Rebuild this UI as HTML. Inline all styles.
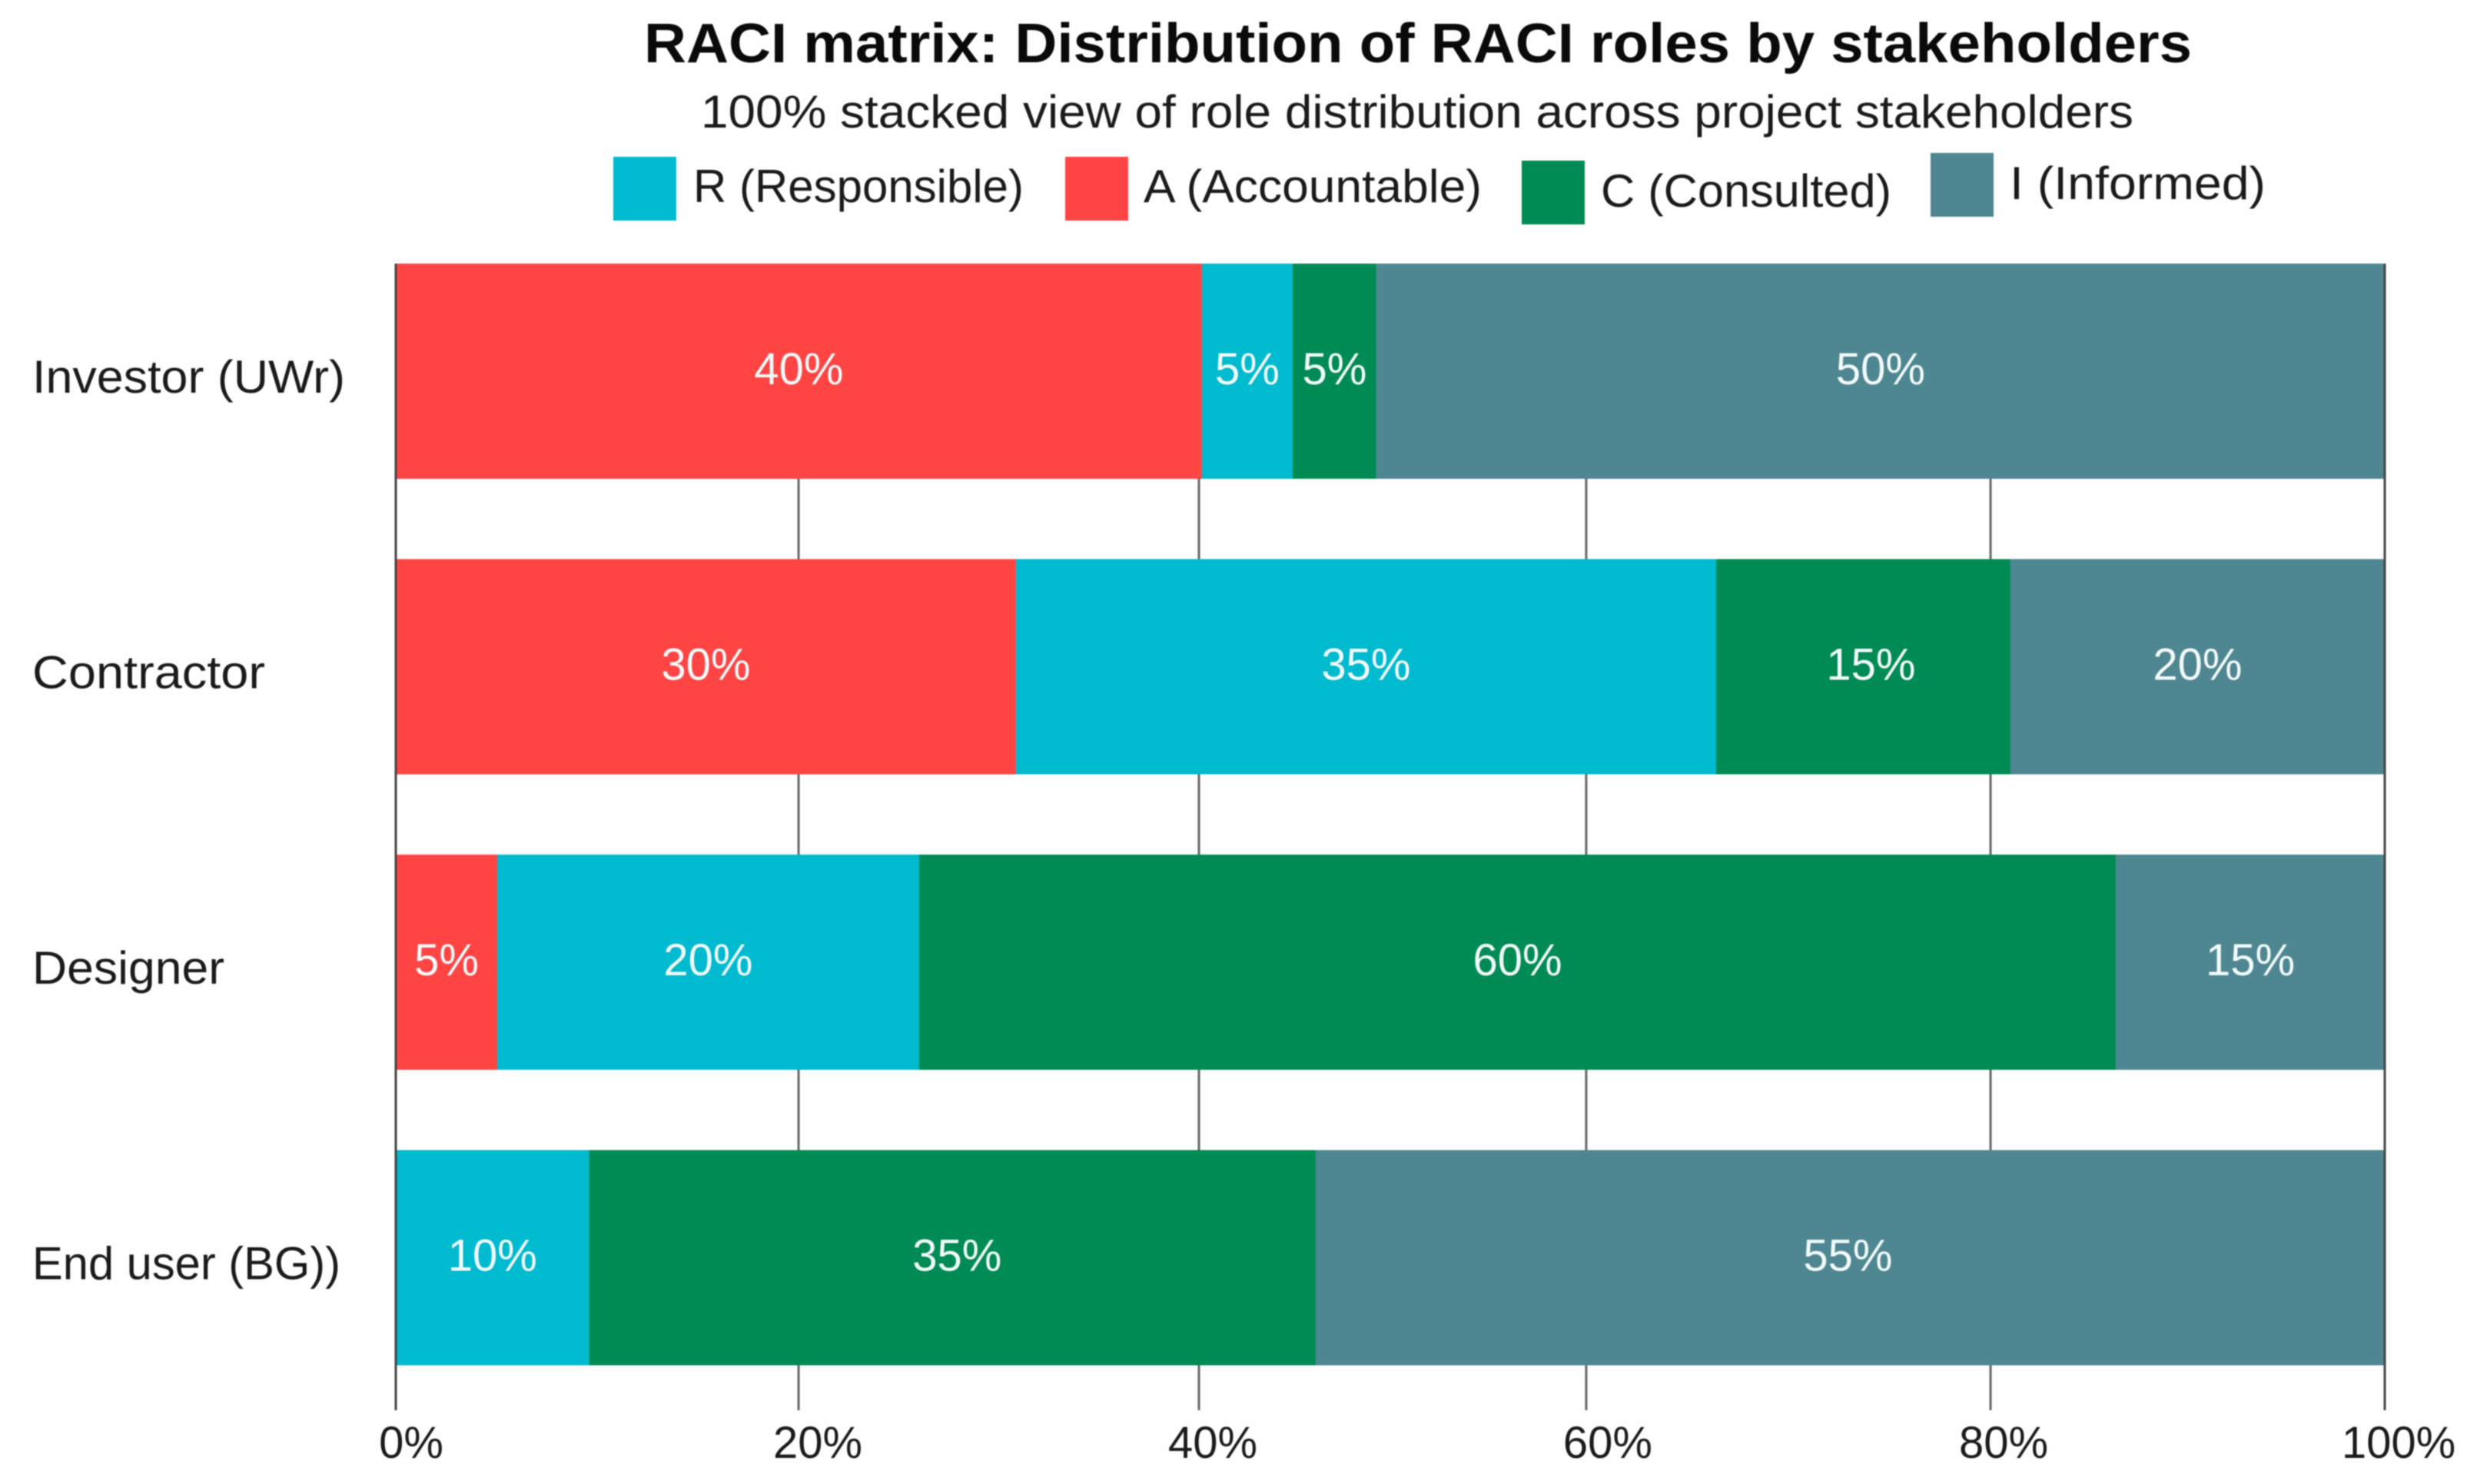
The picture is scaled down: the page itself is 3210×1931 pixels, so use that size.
<!DOCTYPE html>
<html lang="en">
<head>
<meta charset="utf-8">
<title>RACI matrix</title>
<style>
html,body{margin:0;padding:0;background:#fefefe;width:3210px;height:1931px;overflow:hidden}
svg{display:block;font-family:"Liberation Sans",sans-serif;filter:blur(0.8px)}
</style>
</head>
<body>
<svg id="chart" xmlns="http://www.w3.org/2000/svg" width="3210" height="1931" viewBox="0 0 3210 1931">
  <rect x="0" y="0" width="3210" height="1931" fill="#fefefe"/>
  <text x="838" y="81" font-size="72" font-weight="700" fill="#0a0a0a" textLength="2014" lengthAdjust="spacingAndGlyphs">RACI matrix: Distribution of RACI roles by stakeholders</text>
  <text x="912" y="166" font-size="60" fill="#1a1a1a" textLength="1864" lengthAdjust="spacingAndGlyphs">100% stacked view of role distribution across project stakeholders</text>
  <g>
    <g>
      <rect x="798" y="204" width="82" height="83" fill="#00bad0"/>
      <text x="902" y="263" font-size="60" fill="#1a1a1a" textLength="430" lengthAdjust="spacingAndGlyphs">R (Responsible)</text>
    </g>
    <g>
      <rect x="1386" y="204" width="82" height="83" fill="#ff4444"/>
      <text x="1488" y="263" font-size="60" fill="#1a1a1a" textLength="440" lengthAdjust="spacingAndGlyphs">A (Accountable)</text>
    </g>
    <g>
      <rect x="1980" y="209" width="82" height="83" fill="#008b55"/>
      <text x="2083" y="269" font-size="60" fill="#1a1a1a" textLength="378" lengthAdjust="spacingAndGlyphs">C (Consulted)</text>
    </g>
    <g>
      <rect x="2512" y="199" width="82" height="83" fill="#4e8792"/>
      <text x="2615" y="259" font-size="60" fill="#1a1a1a" textLength="333" lengthAdjust="spacingAndGlyphs">I (Informed)</text>
    </g>
  </g>
  <g id="grid-layer"></g>
  <g id="bar-layer"></g>
  <g id="axis-layer"></g>
  <g id="text-layer"></g>
</svg>
<script>
// Chart data
const categories = ["Investor (UWr)", "Contractor", "Designer", "End user (BG))"];
// Segment extents as drawn (% of axis)
const accountableValues = [40.53, 31.18, 5.1, 0];
const responsibleValues = [4.56, 35.2, 21.21, 9.72];
const consultedValues = [4.21, 14.8, 60.17, 36.53];
const informedValues = [50.7, 18.82, 13.52, 53.75];
// Printed segment labels
const accountableLabels = ["40%", "30%", "5%", ""];
const responsibleLabels = ["5%", "35%", "20%", "10%"];
const consultedLabels = ["5%", "15%", "60%", "35%"];
const informedLabels = ["50%", "20%", "15%", "55%"];
// Axis ticks
const tickValues = [0, 20.25, 40.38, 59.85, 80.18, 100];
const tickLabels = ["0%", "20%", "40%", "60%", "80%", "100%"];

// Layout only (not data)
const NS = "http://www.w3.org/2000/svg";
const plotLeft = 515, plotRight = 3103, plotTop = 343, axisBottom = 1835;
const bandStart = 343, bandStep = 384.5, barHeight = 280;
const tickLabelShift = [20, 25, 18, 28, 17, 18];
const categoryLabelWidth = [407, 303, 250, 401];
const valueLabelShift = { "consulted-1": 10, "consulted-3": 6, "informed-3": -3 };

const xScale = v => plotLeft + (v / 100) * (plotRight - plotLeft);
const yScale = i => bandStart + i * bandStep;

const stackSeries = [
  { key: "accountable", color: "#ff4444", values: accountableValues, labels: accountableLabels },
  { key: "responsible", color: "#00bad0", values: responsibleValues, labels: responsibleLabels },
  { key: "consulted", color: "#008b55", values: consultedValues, labels: consultedLabels },
  { key: "informed", color: "#4e8792", values: informedValues, labels: informedLabels }
];

const gridLayer = document.getElementById("grid-layer");
const barLayer = document.getElementById("bar-layer");
const axisLayer = document.getElementById("axis-layer");
const textLayer = document.getElementById("text-layer");

function make(tag, attrs, parent) {
  const el = document.createElementNS(NS, tag);
  for (const k in attrs) el.setAttribute(k, attrs[k]);
  parent.appendChild(el);
  return el;
}

tickValues.forEach((v, i) => {
  const x = xScale(v);
  const edge = i === 0 || i === tickValues.length - 1;
  const line = make("line", { x1: x, x2: x, y1: plotTop, y2: axisBottom, stroke: edge ? "#444444" : "#666666", "stroke-width": 3 }, edge ? axisLayer : gridLayer);
  
  
  const label = make("text", { x: x + tickLabelShift[i], y: 1897, "font-size": 58, fill: "#1a1a1a", "text-anchor": "middle" }, textLayer);
  label.textContent = tickLabels[i];
  
  
});

categories.forEach((cat, i) => {
  const y = yScale(i);
  const catLabel = make("text", { x: 42, y: y + 168, "font-size": 60, fill: "#1a1a1a", textLength: categoryLabelWidth[i], lengthAdjust: "spacingAndGlyphs" }, textLayer);
  catLabel.textContent = cat;
  
  
  let acc = 0;
  stackSeries.forEach(s => {
    const v = s.values[i];
    if (v > 0) {
      const x0 = xScale(acc), x1 = xScale(acc + v);
      const bar = make("rect", { x: x0, y: y, width: x1 - x0, height: barHeight, fill: s.color }, barLayer);
      
      
      const shift = valueLabelShift[s.key + "-" + i] || 0;
      const val = make("text", { x: (x0 + x1) / 2 + shift, y: y + 157, "font-size": 58, fill: "#f4fafa", "text-anchor": "middle" }, textLayer);
      val.textContent = s.labels[i];
      
      
    }
    acc += v;
  });
});
</script>
</body>
</html>
